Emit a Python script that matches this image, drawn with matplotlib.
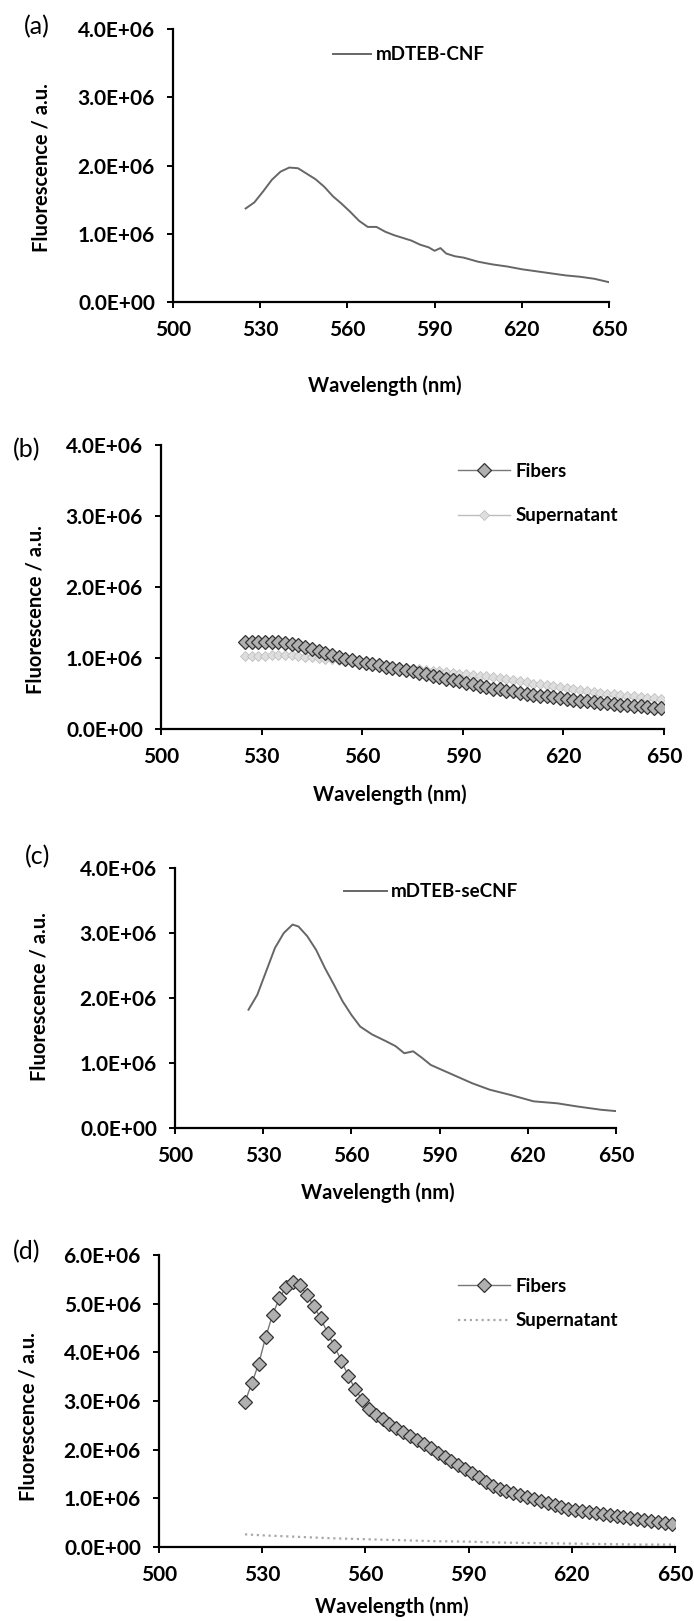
import numpy as np
import matplotlib
matplotlib.use("Agg")
import matplotlib.pyplot as plt
from matplotlib.ticker import FuncFormatter, MultipleLocator

plt.rcParams['font.family'] = ['Lato', 'DejaVu Sans']

# (a) mDTEB-CNF
wl_a = [525, 528, 531, 534, 537, 540, 543, 546, 549, 552, 555, 558, 561, 564, 567, 570,
        573, 576, 579, 582, 585, 588, 590, 592, 594, 597, 600, 605, 610, 615, 620, 625,
        630, 635, 640, 645, 650]
cnf_a = [1.37, 1.46, 1.62, 1.79, 1.91, 1.97, 1.96, 1.88, 1.80, 1.69, 1.55, 1.44, 1.32, 1.19,
         1.10, 1.10, 1.03, 0.98, 0.94, 0.90, 0.84, 0.80, 0.75, 0.79, 0.71, 0.67, 0.65, 0.59,
         0.55, 0.52, 0.48, 0.45, 0.42, 0.39, 0.37, 0.34, 0.29]

# (b) fibers / supernatant, odd wavelengths 525..649
wl_b = list(range(525, 650, 2))
fib_b = [1.22, 1.23, 1.23, 1.22, 1.22, 1.22, 1.21, 1.20, 1.18, 1.16, 1.13, 1.10, 1.07, 1.04,
         1.02, 0.99, 0.97, 0.95, 0.93, 0.92, 0.90, 0.88, 0.86, 0.85, 0.83, 0.81, 0.79, 0.77,
         0.75, 0.73, 0.71, 0.69, 0.67, 0.65, 0.63, 0.61, 0.59, 0.57, 0.56, 0.54, 0.53, 0.51,
         0.50, 0.48, 0.47, 0.46, 0.45, 0.43, 0.42, 0.41, 0.40, 0.39, 0.38, 0.37, 0.36, 0.35,
         0.34, 0.34, 0.33, 0.32, 0.31, 0.30, 0.29]
sup_b = [1.03, 1.03, 1.03, 1.03, 1.04, 1.04, 1.04, 1.04, 1.03, 1.02, 1.01, 1.00, 0.99, 0.98,
         0.97, 0.96, 0.95, 0.94, 0.93, 0.92, 0.91, 0.90, 0.88, 0.87, 0.86, 0.85, 0.84, 0.83,
         0.82, 0.81, 0.80, 0.79, 0.78, 0.77, 0.76, 0.75, 0.74, 0.73, 0.72, 0.70, 0.69, 0.67,
         0.66, 0.64, 0.63, 0.62, 0.60, 0.59, 0.58, 0.56, 0.55, 0.54, 0.52, 0.51, 0.50, 0.49,
         0.48, 0.47, 0.46, 0.45, 0.44, 0.43, 0.42]

# (c) mDTEB-seCNF
wl_c = [525, 528, 531, 534, 537, 540, 542, 545, 548, 551, 554, 557, 560, 563, 567, 572,
        575, 578, 581, 584, 587, 592, 596, 601, 607, 614, 622, 630, 637, 645, 650]
secnf_c = [1.82, 2.05, 2.41, 2.77, 3.00, 3.13, 3.10, 2.95, 2.74, 2.46, 2.21, 1.95, 1.74,
           1.56, 1.44, 1.33, 1.26, 1.15, 1.18, 1.08, 0.97, 0.87, 0.79, 0.69, 0.59, 0.51,
           0.41, 0.38, 0.33, 0.28, 0.26]

# (d) fibers / supernatant
wl_d = list(range(525, 650, 2))
fib_d = [2.98, 3.37, 3.77, 4.31, 4.77, 5.11, 5.35, 5.45, 5.38, 5.18, 4.95, 4.70, 4.40, 4.12,
         3.83, 3.52, 3.25, 3.03, 2.83, 2.72, 2.63, 2.53, 2.45, 2.37, 2.28, 2.20, 2.12, 2.03,
         1.94, 1.85, 1.77, 1.68, 1.60, 1.52, 1.43, 1.34, 1.26, 1.20, 1.15, 1.11, 1.06, 1.02,
         0.98, 0.94, 0.90, 0.87, 0.83, 0.79, 0.76, 0.73, 0.71, 0.69, 0.67, 0.65, 0.63, 0.61,
         0.59, 0.57, 0.55, 0.53, 0.51, 0.49, 0.47]
wl_sup_d = [525, 530, 540, 550, 560, 570, 580, 590, 600, 610, 620, 630, 640, 650]
sup_d = [0.26, 0.24, 0.21, 0.18, 0.16, 0.14, 0.12, 0.11, 0.09, 0.08, 0.07, 0.06, 0.05, 0.05]

x_ticks = [500, 530, 560, 590, 620, 650]

W, H = 694, 1621
FS_TICK = 15
FS_LAB = 14.5
FS_LEG = 13.5


def pix_axes(fig, x0, x1, y0, y1):
    return fig.add_axes([x0 / W, 1 - y1 / H, (x1 - x0) / W, (y1 - y0) / H])


def style(ax, ymax):
    ax.set_xlim(500, 650)
    ax.set_ylim(0, ymax * 1e6)
    ax.set_xticks(x_ticks)
    ax.yaxis.set_major_locator(MultipleLocator(1e6))
    ax.yaxis.set_major_formatter(FuncFormatter(lambda v, p: f"{v:.1E}"))
    for s in ['top', 'right']:
        ax.spines[s].set_visible(False)
    for s in ['left', 'bottom']:
        ax.spines[s].set_linewidth(1.6)
    ax.tick_params(axis='both', direction='out', length=4, width=1.4, labelsize=FS_TICK)
    ax.tick_params(axis='y', pad=9)
    ax.tick_params(axis='x', pad=9)
    for t in ax.get_xticklabels() + ax.get_yticklabels():
        t.set_fontweight('bold')


def labels(fig, tag, tag_xy, xl_xy, yl_xy):
    fig.text(tag_xy[0] / W, 1 - tag_xy[1] / H, tag, fontsize=18, ha='center', va='center')
    fig.text(xl_xy[0] / W, 1 - xl_xy[1] / H, 'Wavelength (nm)', fontsize=FS_LAB,
             fontweight='bold', ha='center', va='center')
    fig.text(yl_xy[0] / W, 1 - yl_xy[1] / H, 'Fluorescence / a.u.', fontsize=FS_LAB,
             fontweight='bold', ha='center', va='center', rotation=90)


fig = plt.figure(figsize=(W / 100, H / 100), dpi=100)

fib_style = dict(color='#777777', lw=1.0, marker='D', ms=7, mfc='#b0b0b0',
                 mec='#333333', mew=0.9)
leg_kw = dict(loc='center left', frameon=False, prop=dict(size=FS_LEG, weight='bold'),
              borderpad=0, borderaxespad=0)

# (a)
ax = pix_axes(fig, 173, 609, 29, 302)
ax.plot(wl_a, np.array(cnf_a) * 1e6, color='#666666', lw=1.4, label='mDTEB-CNF')
style(ax, 4)
ax.legend(bbox_to_anchor=(0.367, 0.905), handlelength=2.0, handletextpad=0.3, **leg_kw)
labels(fig, '(a)', (37, 27), (385, 386), (42, 168))

# (b)
ax = pix_axes(fig, 161, 664, 445, 729)
ax.plot(wl_b, np.array(fib_b) * 1e6, label='Fibers', **fib_style)
ax.plot(wl_b, np.array(sup_b) * 1e6, color='#bdbdbd', lw=1.0, marker='D', ms=5,
        mfc='#dedede', mec='#c0c0c0', mew=0.6, label='Supernatant', zorder=1)
style(ax, 4)
ax.legend(bbox_to_anchor=(0.59, 0.829), handlelength=2.8, handletextpad=0.3,
          labelspacing=1.45, **leg_kw)
labels(fig, '(b)', (27, 450), (390, 795), (36, 610))

# (c)
ax = pix_axes(fig, 175, 616, 868, 1128)
ax.plot(wl_c, np.array(secnf_c) * 1e6, color='#666666', lw=1.4, label='mDTEB-seCNF')
style(ax, 4)
ax.legend(bbox_to_anchor=(0.383, 0.908), handlelength=2.3, handletextpad=0.2, **leg_kw)
labels(fig, '(c)', (38, 857), (378, 1193), (40, 997))

# (d)
ax = pix_axes(fig, 159, 675, 1255, 1547)
ax.plot(wl_d, np.array(fib_d) * 1e6, label='Fibers', **fib_style)
ax.plot(wl_sup_d, np.array(sup_d) * 1e6, color='#a8a8a8', lw=1.6, ls=':',
        label='Supernatant')
style(ax, 6)
ax.legend(bbox_to_anchor=(0.579, 0.834), handlelength=2.8, handletextpad=0.3,
          labelspacing=0.95, **leg_kw)
labels(fig, '(d)', (27, 1252), (392, 1607), (29, 1417))

fig.savefig('out.png', dpi=100)
